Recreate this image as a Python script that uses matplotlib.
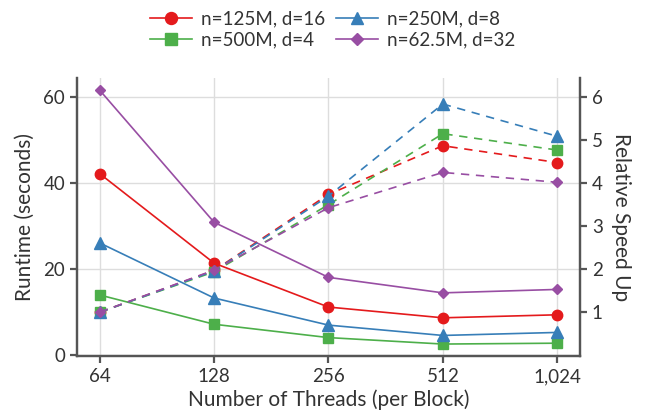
import numpy as np
import matplotlib.pyplot as plt
from matplotlib.ticker import FixedLocator, FuncFormatter, NullLocator

plt.rcParams["font.family"] = ["Lato", "DejaVu Sans"]

threads = [64, 128, 256, 512, 1024]
labels = ["n=125M, d=16", "n=500M, d=4", "n=250M, d=8", "n=62.5M, d=32"]
colors = ["#e41a1c", "#4daf4a", "#377eb8", "#984ea3"]
markers = ["o", "s", "^", "D"]
msizes = [7.5, 7, 8, 5]

# runtime in seconds
runtime = [
    [42.2, 21.4, 11.2, 8.7, 9.4],   # n=125M, d=16
    [14.0, 7.2, 4.1, 2.6, 2.8],     # n=500M, d=4
    [26.1, 13.3, 7.0, 4.6, 5.3],    # n=250M, d=8
    [61.6, 30.9, 18.1, 14.5, 15.3], # n=62.5M, d=32
]
# relative speed up
speedup = [
    [1.0, 1.97, 3.74, 4.87, 4.48],
    [1.0, 1.94, 3.50, 5.15, 4.77],
    [1.0, 1.96, 3.70, 5.84, 5.09],
    [1.0, 1.98, 3.43, 4.25, 4.02],
]

spine_c = "#555555"
text_c = "#333333"
fig = plt.figure(figsize=(6.46, 4.16), dpi=100)
ax = fig.add_axes([0.119, 0.144, 0.779, 0.668])
ax2 = ax.twinx()

for i in range(4):
    ax.plot(threads, runtime[i], color=colors[i], marker=markers[i], ms=msizes[i],
            lw=1.2, label=labels[i], zorder=3)
    ax2.plot(threads, speedup[i], color=colors[i], marker=markers[i], ms=msizes[i],
             lw=1.2, ls=(0, (5, 4)), zorder=3)

ax.set_xscale("log", base=2)
ax.set_xlim(64 * 2 ** -0.2, 1024 * 2 ** 0.2)
ax.xaxis.set_major_locator(FixedLocator(threads))
ax.xaxis.set_minor_locator(NullLocator())
ax.xaxis.set_major_formatter(FuncFormatter(lambda v, p: f"{int(v):,}"))

ylo, yhi = -0.2, 64.4
ax.set_ylim(ylo, yhi)
ax.set_yticks([0, 20, 40, 60])
ax2.set_ylim(ylo / 10, yhi / 10)
ax2.set_yticks([1, 2, 3, 4, 5, 6])

ax.grid(True, color="#dddddd", lw=1, zorder=0)
ax.set_axisbelow(True)

for a in (ax, ax2):
    a.spines["top"].set_visible(False)
    for s in ("left", "right", "bottom"):
        a.spines[s].set_color(spine_c)
        a.spines[s].set_linewidth(1.6)
    a.tick_params(colors=spine_c, labelcolor=text_c, labelsize=13.5,
                  length=5, width=1.6, direction="out")

ax.set_xlabel("Number of Threads (per Block)", fontsize=15, color=text_c, labelpad=3)
ax.set_ylabel("Runtime (seconds)", fontsize=15, color=text_c, labelpad=6)
ax2.set_ylabel("Relative Speed Up", fontsize=15, color=text_c, rotation=270, labelpad=20)

h, l = ax.get_legend_handles_labels()
fig.legend(h, l, ncol=2, loc="upper center",
           bbox_to_anchor=(0.515, 1.015), frameon=False, fontsize=13.5,
           handlelength=2.2, columnspacing=0.6, handletextpad=0.5, labelspacing=0.2,
           labelcolor=text_c, markerscale=1.15)

fig.savefig("out.png", dpi=100)
